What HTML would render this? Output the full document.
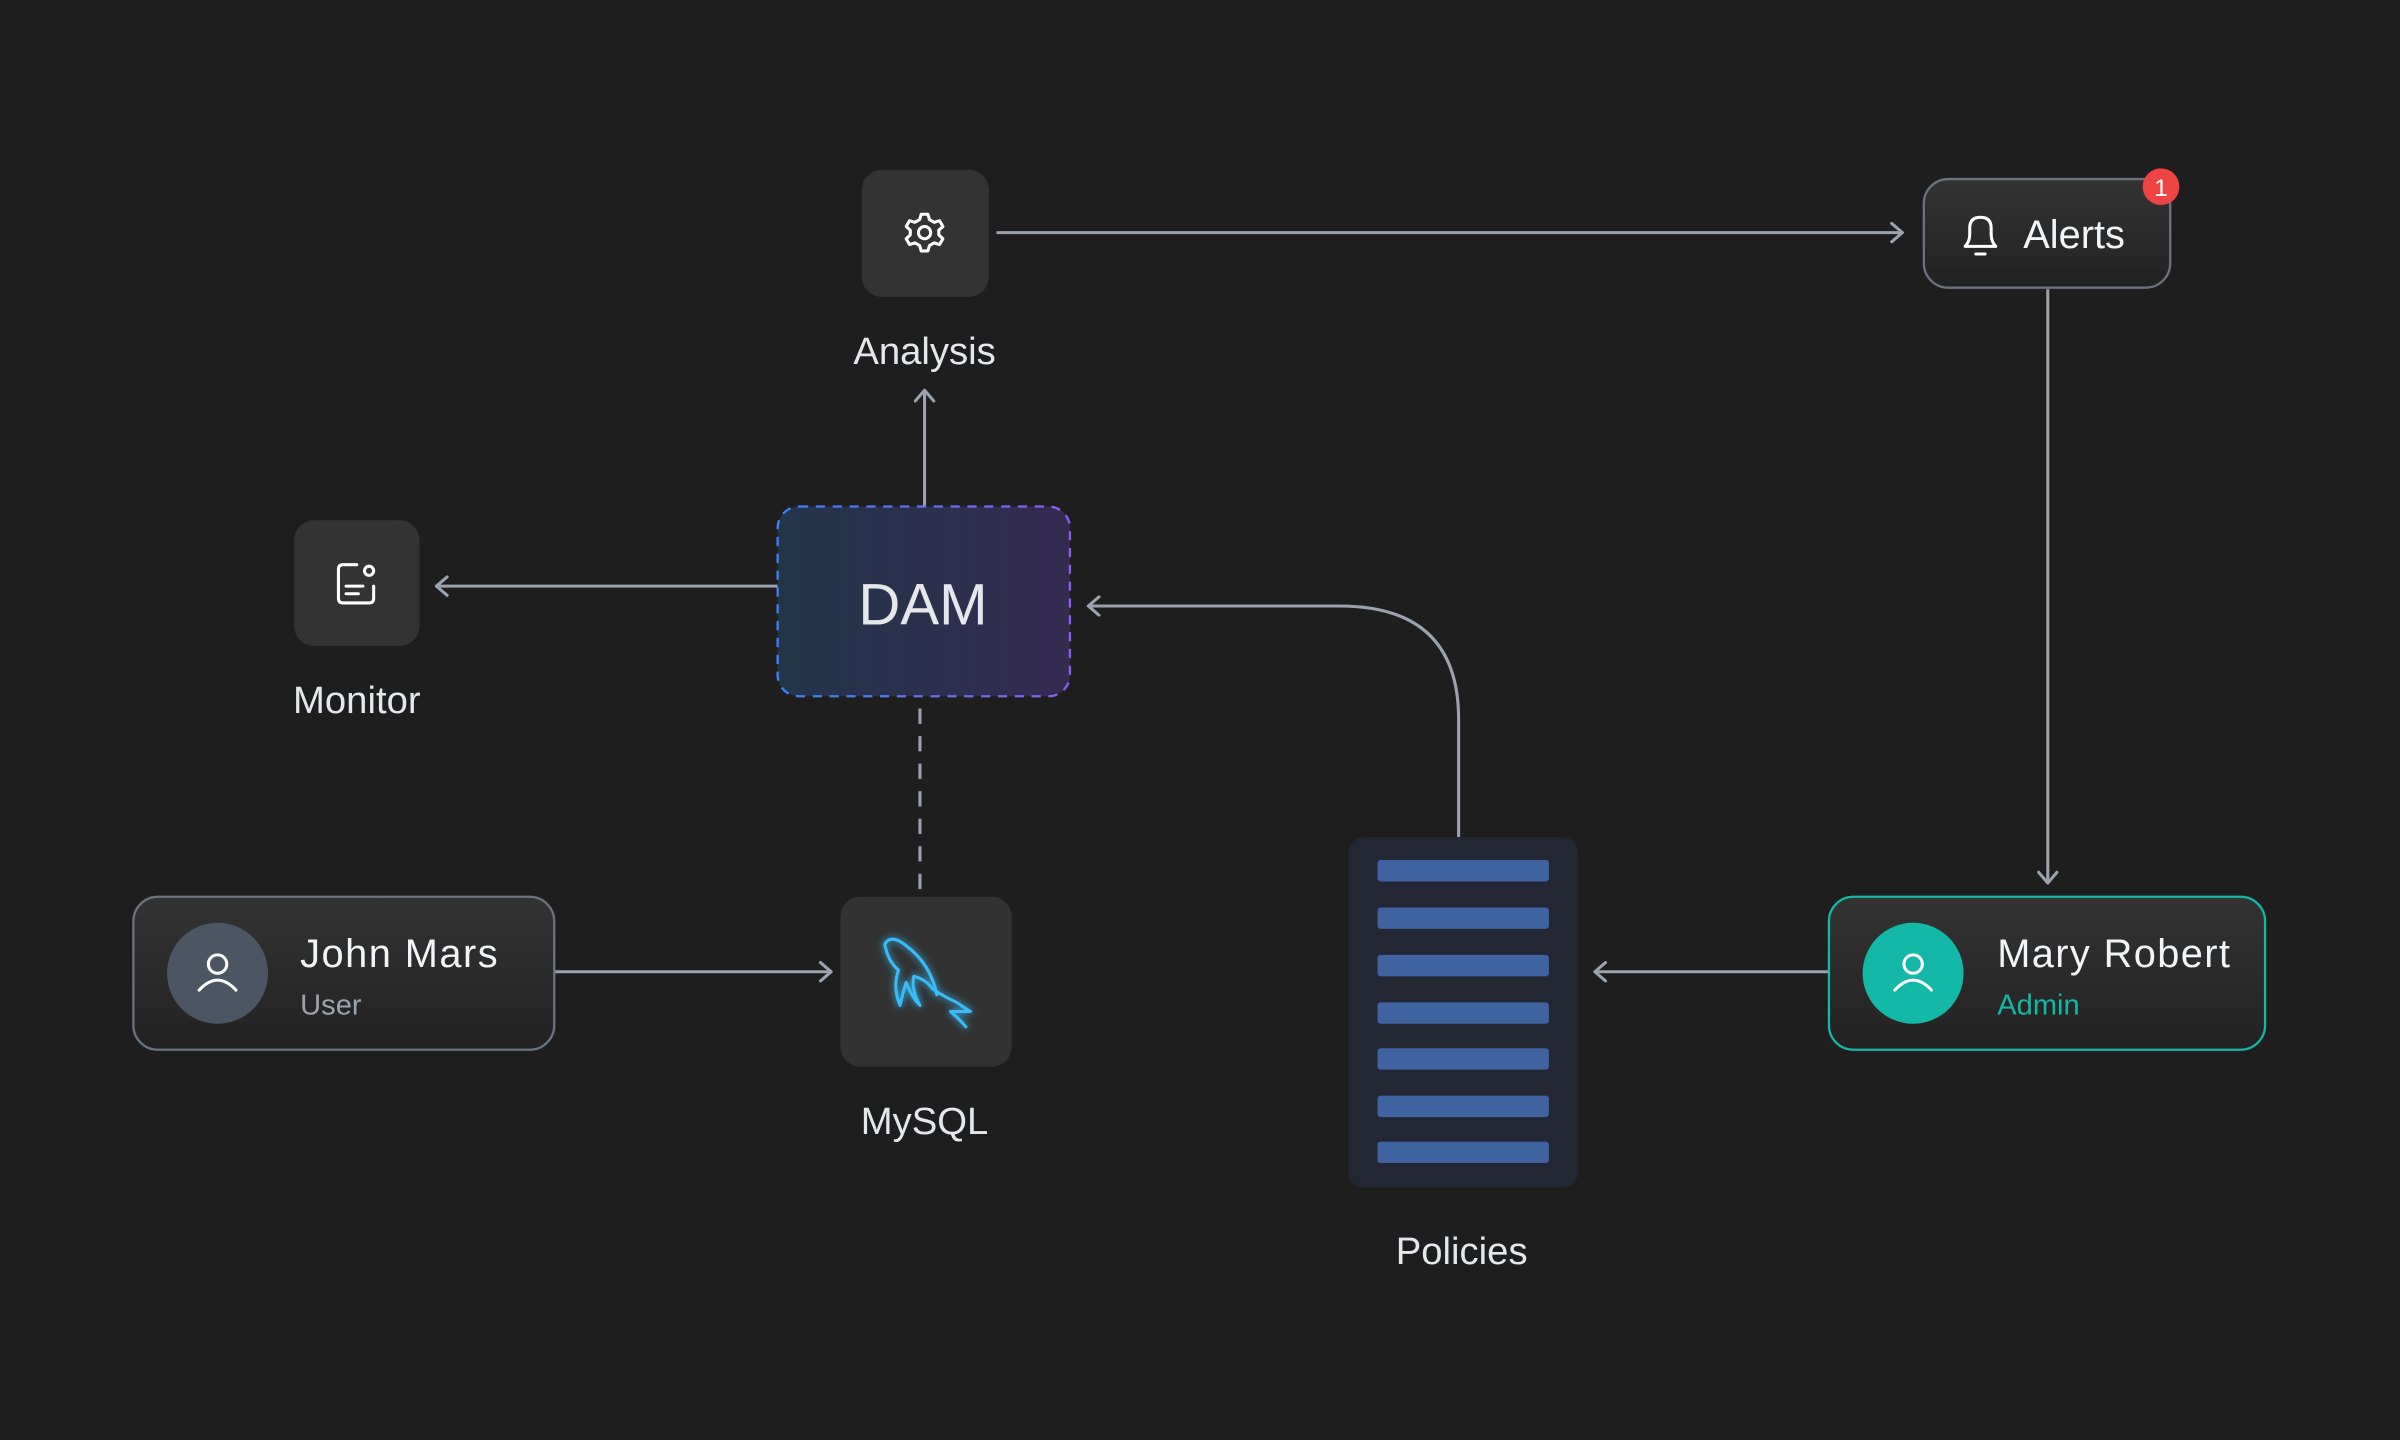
<!DOCTYPE html>
<html><head><meta charset="utf-8"><style>
html,body{margin:0;padding:0;background:#1e1e1e;}
svg{display:block;}
text{font-family:"Liberation Sans",sans-serif;}
</style></head><body>
<svg width="2400" height="1440" viewBox="0 0 1568 941" xmlns="http://www.w3.org/2000/svg">
<defs>
<linearGradient id="dam" x1="0" y1="0" x2="1" y2="0"><stop offset="0" stop-color="#22364a"/><stop offset="1" stop-color="#352b50"/></linearGradient>
<linearGradient id="damS" x1="0" y1="0" x2="1" y2="0"><stop offset="0" stop-color="#3b82f6"/><stop offset="1" stop-color="#8b5cf6"/></linearGradient>
<linearGradient id="card" x1="0" y1="0" x2="0" y2="1"><stop offset="0" stop-color="#333"/><stop offset="1" stop-color="#222"/></linearGradient>
<marker id="ah" markerWidth="14" markerHeight="14" refX="11" refY="7" orient="auto" markerUnits="userSpaceOnUse"><path d="M4 1 L11 7 L4 13" fill="none" stroke="#9ca3af" stroke-width="2" stroke-linecap="round" stroke-linejoin="round"/></marker>
<filter id="glow" x="-50%" y="-50%" width="200%" height="200%"><feGaussianBlur stdDeviation="2.5" result="b"/><feMerge><feMergeNode in="b"/><feMergeNode in="SourceGraphic"/></feMerge></filter>
</defs>
<rect width="1568" height="941" fill="#1e1e1e"/>
<g stroke="#9ca3af" stroke-width="2" fill="none">
<line x1="651" y1="152" x2="1243" y2="152" marker-end="url(#ah)"/>
<line x1="1338" y1="189" x2="1338" y2="577" marker-end="url(#ah)"/>
<line x1="508" y1="383" x2="285" y2="383" marker-end="url(#ah)"/>
<line x1="604" y1="331" x2="604" y2="255" marker-end="url(#ah)"/>
<line x1="601" y1="463" x2="601" y2="582" stroke-dasharray="10,8"/>
<path d="M953 547 L953 470 Q953 396 875 396 L711 396" marker-end="url(#ah)"/>
<line x1="1195" y1="635" x2="1042" y2="635" marker-end="url(#ah)"/>
<line x1="362" y1="635" x2="543" y2="635" marker-end="url(#ah)"/>
</g>
<rect x="563" y="111" width="83" height="83" rx="13" fill="#333"/>
<g transform="translate(604,152)" fill="none" stroke="#fff" stroke-width="2">
<circle r="4"/>
<path d="M-2.2 -12 L2.2 -12 L3.2 -8.5 L6.3 -6.7 L9.8 -7.8 L12 -4 L9.3 -1.5 L9.3 1.5 L12 4 L9.8 7.8 L6.3 6.7 L3.2 8.5 L2.2 12 L-2.2 12 L-3.2 8.5 L-6.3 6.7 L-9.8 7.8 L-12 4 L-9.3 1.5 L-9.3 -1.5 L-12 -4 L-9.8 -7.8 L-6.3 -6.7 L-3.2 -8.5 Z" stroke-linejoin="round"/>
</g>
<text x="604" y="238" font-size="25" fill="#e5e7eb" text-anchor="middle">Analysis</text>
<rect x="1257" y="117" width="161" height="71" rx="16" fill="url(#card)" stroke="#6b7280" stroke-width="1.5"/>
<g fill="none" stroke="#fff" stroke-width="2" stroke-linecap="round" stroke-linejoin="round">
<path d="M1284 161 Q1287 158 1287 153 L1287 149 Q1287 142 1294 142 Q1301 142 1301 149 L1301 153 Q1301 158 1304 161 Z"/>
<line x1="1291" y1="166" x2="1297" y2="166"/>
</g>
<text x="1322" y="162" font-size="26" fill="#f3f4f6">Alerts</text>
<circle cx="1412" cy="122" r="12" fill="#ef4444"/>
<text x="1412" y="128" font-size="16" fill="#fff" text-anchor="middle">1</text>
<rect x="192" y="340" width="82" height="82" rx="13" fill="#333"/>
<g fill="none" stroke="#fff" stroke-width="2" stroke-linecap="round">
<path d="M233 369 L224 369 Q221 369 221 372 L221 391 Q221 394 224 394 L241 394 Q244 394 244 391 L244 383"/>
<circle cx="241" cy="373" r="3"/>
<line x1="226" y1="383" x2="237" y2="383"/><line x1="226" y1="388" x2="234" y2="388"/>
</g>
<text x="233" y="466" font-size="25" fill="#e5e7eb" text-anchor="middle">Monitor</text>
<rect x="508" y="331" width="191" height="124" rx="14" fill="url(#dam)" stroke="url(#damS)" stroke-width="1.5" stroke-dasharray="6,5"/>
<text x="603" y="408" font-size="38" fill="#e5e7eb" text-anchor="middle">DAM</text>
<rect x="881" y="547" width="150" height="229" rx="10" fill="#232733"/>
<g fill="#3f62a0">
<rect x="900" y="562" width="112" height="14" rx="2"/>
<rect x="900" y="593" width="112" height="14" rx="2"/>
<rect x="900" y="624" width="112" height="14" rx="2"/>
<rect x="900" y="655" width="112" height="14" rx="2"/>
<rect x="900" y="685" width="112" height="14" rx="2"/>
<rect x="900" y="716" width="112" height="14" rx="2"/>
<rect x="900" y="746" width="112" height="14" rx="2"/>
</g>
<text x="955" y="826" font-size="25" fill="#e5e7eb" text-anchor="middle">Policies</text>
<rect x="1195" y="586" width="285" height="100" rx="16" fill="url(#card)" stroke="#14b8a6" stroke-width="1.5"/>
<circle cx="1250" cy="636" r="33" fill="#14b8a6"/>
<g fill="none" stroke="#fff" stroke-width="2" stroke-linecap="round"><circle cx="1250" cy="630" r="6"/><path d="M1238 647 Q1250 634 1262 647"/></g>
<text x="1305" y="632" font-size="26" fill="#f3f4f6" textLength="152">Mary Robert</text>
<text x="1305" y="663" font-size="19" fill="#14b8a6">Admin</text>
<rect x="87" y="586" width="275" height="100" rx="16" fill="url(#card)" stroke="#6b7280" stroke-width="1.5"/>
<circle cx="142" cy="636" r="33" fill="#4b5563"/>
<g fill="none" stroke="#fff" stroke-width="2" stroke-linecap="round"><circle cx="142" cy="630" r="6"/><path d="M130 647 Q142 634 154 647"/></g>
<text x="196" y="632" font-size="26" fill="#f3f4f6" textLength="129">John Mars</text>
<text x="196" y="663" font-size="19" fill="#9ca3af">User</text>
<rect x="549" y="586" width="112" height="111" rx="13" fill="#323232"/>
<path d="M612 650 Q608 630 592 618 Q582 610 578 617 Q580 628 587 634 Q583 645 588 657 Q590 648 592 642 Q596 652 601 657 Q595 646 597 638 Q605 640 609 646 Q616 651 625 655 Q629 658 634 661 L621 661 Q627 666 631 671" fill="none" stroke="#38bdf8" stroke-width="2" stroke-linejoin="round" stroke-linecap="round" filter="url(#glow)"/>
<text x="604" y="741" font-size="25" fill="#e5e7eb" text-anchor="middle">MySQL</text>
</svg>
</body></html>
